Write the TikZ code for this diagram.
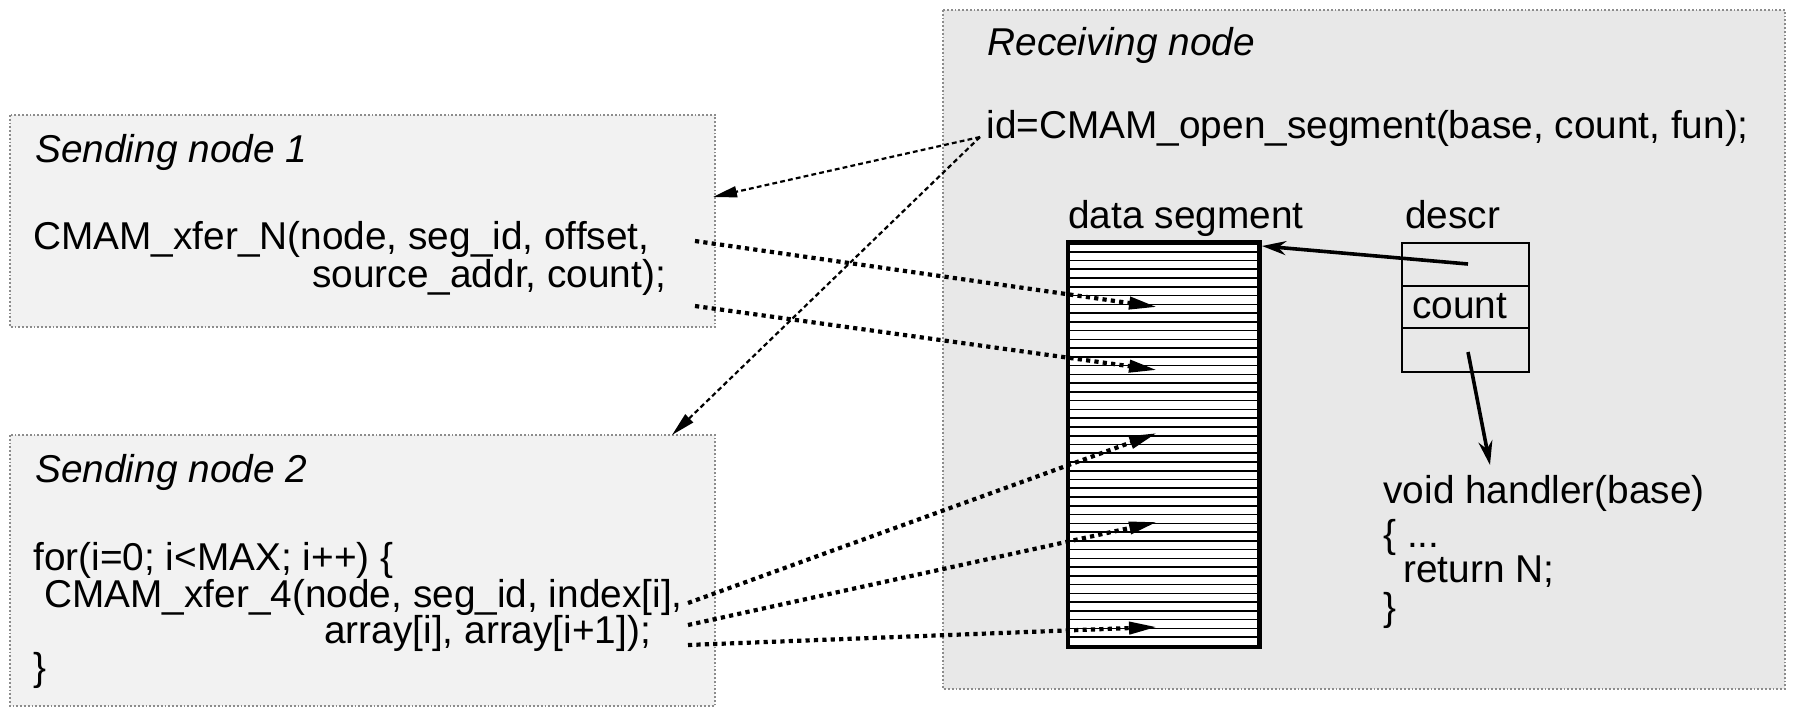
\documentclass[tikz,border=0pt]{standalone}
\usepackage{fontspec}
\setmainfont{Liberation Sans}
\usetikzlibrary{arrows.meta}
\begin{document}
\begin{tikzpicture}[x=0.5pt,y=-0.5pt,
  txt/.style={anchor=base west, inner sep=0pt, font=\fontsize{19.4}{20}\selectfont},
  ttl/.style={txt, font=\fontsize{19.4}{20}\selectfont\itshape},
  panel/.style={draw=black!45, line width=0.9pt, densely dotted},
  xfer/.style={line width=2.1pt, dash pattern=on 2.1pt off 2.1pt,
    -{Triangle[length=14pt,width=6pt]}},
  idlink/.style={line width=1.1pt, dash pattern=on 2.4pt off 1.6pt,
    -{Triangle[length=12pt,width=5.5pt]}},
  ptr/.style={line width=1.8pt, -{Stealth[length=12pt,width=7pt]}},
  cellbox/.style={draw, line width=1.2pt, inner sep=0pt},
]
\path[use as bounding box] (0,0) rectangle (1793,708);

% panels
\filldraw[panel, fill=black!5] (10,115) rectangle (715,327);
\filldraw[panel, fill=black!5] (10,435) rectangle (715,706);
\filldraw[panel, fill=black!9] (943,10) rectangle (1785,689);

% sending node 1
\node[ttl] (t1) at (35,162) {Sending node 1};
\node[txt] (x1a) at (33,249) {CMAM\_xfer\_N(node, seg\_id, offset,};
\node[txt] (x1b) at (312,287) {source\_addr, count);};

% sending node 2
\node[ttl] (t2) at (35,482) {Sending node 2};
\node[txt] (f1) at (33,570) {for(i=0; i<MAX; i++) \{};
\node[txt] (f2) at (44,607) {CMAM\_xfer\_4(node, seg\_id, index[i],};
\node[txt] (f3) at (324,643) {array[i], array[i+1]);};
\node[txt] (f4) at (33,680) {\}};

% receiving node
\node[ttl] (t3) at (987,55) {Receiving node};
\node[txt] (open) at (986,138) {id=CMAM\_open\_segment(base, count, fun);};
\node[txt] (dsl) at (1068,228) {data segment};
\node[txt] (dcl) at (1405,228) {descr};

% data segment with its stripes
\node[draw, fill=white, line width=1.5pt, inner sep=0pt,
      minimum width=95pt, minimum height=201.5pt] (seg) at (1163.5,444.5) {};
\foreach \k in {1,...,45}
  \draw[line width=0.8pt] (1069,{243+\k*8.76}) -- (1259,{243+\k*8.76});
\draw[line width=1.5pt] (seg.north west) rectangle (seg.south east);

% descriptor
\node[cellbox, minimum width=63.5pt, minimum height=64.5pt] (descr) at (1465.5,307.5) {};
\draw[line width=1.2pt] (1402,286) -- (1529,286);
\draw[line width=1.2pt] (1402,328) -- (1529,328);
\node[txt] (cnt) at (1412,318) {count};

% handler
\node[txt] (h1) at (1383,503) {void handler(base)};
\node[txt] (h2) at (1383,547) {\{ ...};
\node[txt] (h3) at (1403,582) {return N;};
\node[txt] (h4) at (1383,620) {\}};

% connector end points
\coordinate (idp) at (980,137);
\coordinate (in1) at (713,197);
\coordinate (in2) at (672,435);
\coordinate (s1) at (695,241);
\coordinate (s2) at (695,306);
\coordinate (s3) at (688,603);
\coordinate (s4) at (688,625);
\coordinate (s5) at (688,645);
\coordinate (e1) at (1157,307);
\coordinate (e2) at (1157,370);
\coordinate (e3) at (1157,433);
\coordinate (e4) at (1157,522);
\coordinate (e5) at (1157,627);
\coordinate (dp) at (1468,264);
\coordinate (segtip) at (1262,246);
\coordinate (fp) at (1468,352);
\coordinate (htip) at (1490,465);

% segment id handed to the senders
\draw[idlink] (idp) -- (in1);
\draw[idlink] (idp) -- (in2);

% transfers into the segment
\draw[xfer] (s1) -- (e1);
\draw[xfer] (s2) -- (e2);
\draw[xfer] (s3) -- (e3);
\draw[xfer] (s4) -- (e4);
\draw[xfer] (s5) -- (e5);

% descriptor pointers
\draw[ptr] (dp) -- (segtip);
\draw[ptr] (fp) -- (htip);
\end{tikzpicture}
\end{document}
